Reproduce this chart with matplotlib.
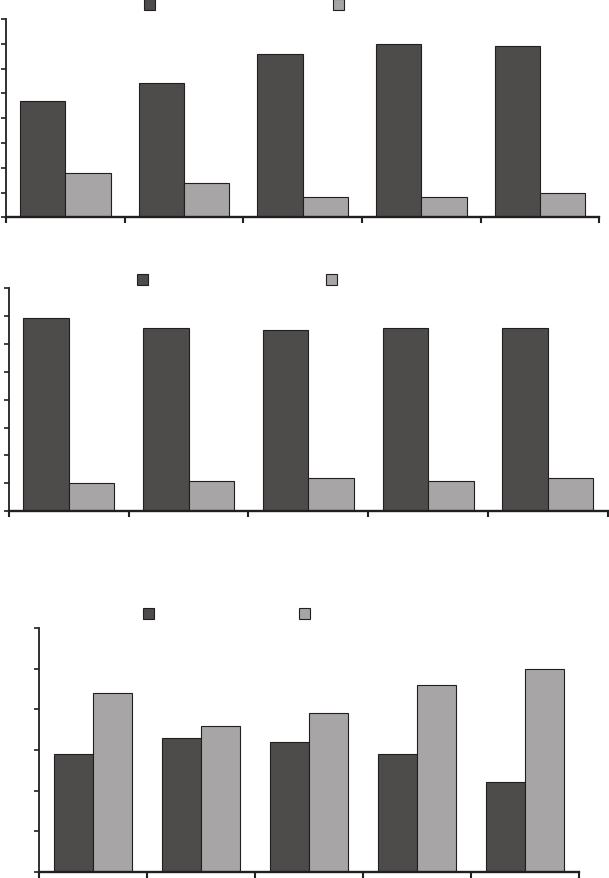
import numpy as np
import matplotlib
matplotlib.use("Agg")
import matplotlib.pyplot as plt
from matplotlib.patches import Patch

# values (no tick labels visible, units arbitrary)
p1_dark = [47, 54, 66, 70, 69]
p1_light = [18, 14, 8, 8, 10]
p2_dark = [69.1, 65.8, 65.1, 65.8, 65.5]
p2_light = [10.0, 10.7, 11.8, 10.7, 11.8]
p3_dark = [29, 33, 32, 29, 22]
p3_light = [44, 36, 39, 46, 50]

DARK = "#4e4c4a"
LIGHT = "#a7a5a6"
EDGE = "#231f20"
W, H = 609, 879


def panel(fig, box, dark, light, ymax, ystep, bw, leg_x, leg_y, colsp):
    l, t, r, b = box
    ax = fig.add_axes([l / W, 1 - b / H, (r - l) / W, (b - t) / H])
    x = np.arange(len(dark))
    ax.bar(x - bw / 2, dark, bw, color=DARK, edgecolor=EDGE, lw=0.8)
    ax.bar(x + bw / 2, light, bw, color=LIGHT, edgecolor=EDGE, lw=0.8)
    ax.set_xlim(-0.5, len(dark) - 0.5)
    ax.set_ylim(0, ymax)
    ax.set_yticks(np.arange(0, ymax + 0.01, ystep))
    ax.set_xticks(np.arange(-0.5, len(dark), 1.0))
    ax.tick_params(axis="y", direction="out", length=3.5, width=1.2,
                   color=EDGE, labelleft=False)
    ax.tick_params(axis="x", direction="out", length=4.5, width=1.5,
                   color=EDGE, labelbottom=False)
    for s in ("top", "right"):
        ax.spines[s].set_visible(False)
    for s in ("left", "bottom"):
        ax.spines[s].set_color(EDGE)
    ax.spines["left"].set_linewidth(1.3)
    ax.spines["bottom"].set_linewidth(1.7)
    # legend swatches only (the reference shows no legend text)
    hs = [Patch(fc=DARK, ec=EDGE, lw=0.8), Patch(fc=LIGHT, ec=EDGE, lw=0.8)]
    fig.legend(hs, ["", ""], ncol=2, frameon=False, fontsize=10,
               loc="center left", bbox_to_anchor=(leg_x / W, 1 - leg_y / H),
               borderpad=0, borderaxespad=0, handlelength=0.8,
               handleheight=0.85, handletextpad=0.8, columnspacing=colsp)
    return ax


fig = plt.figure(figsize=(W / 100, H / 100), dpi=100)
panel(fig, (6, 20, 599.3, 218.3), p1_dark, p1_light, 80, 10, 0.382, 144, 6, 12.0)
panel(fig, (9, 289, 607.7, 512.3), p2_dark, p2_light, 80, 10, 0.38, 137, 281.5, 12.0)
panel(fig, (39, 629.3, 579.3, 872.7), p3_dark, p3_light, 60, 10, 0.361, 143, 615, 9.63)
fig.savefig("out.png", dpi=100)
